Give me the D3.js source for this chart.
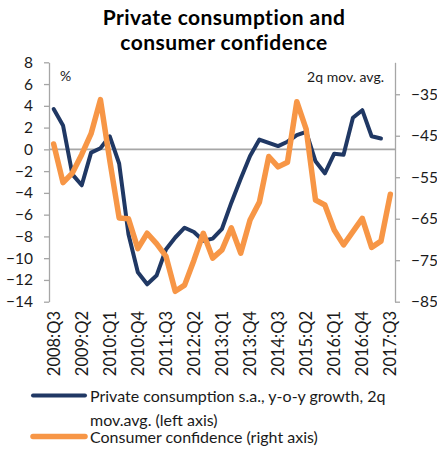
<!DOCTYPE html>
<html>
<head>
<meta charset="utf-8">
<script src="https://cdn.jsdelivr.net/npm/d3@7"></script>
<style>
  html, body { margin: 0; padding: 0; background: #fff; }
  svg { display: block; font-family: Lato, "Open Sans", sans-serif; }
</style>
</head>
<body>
<svg id="chart" width="437" height="449"></svg>
<script>
// ---- Data ----
const quarters = [
  "2008:Q3","2008:Q4","2009:Q1","2009:Q2","2009:Q3","2009:Q4","2010:Q1","2010:Q2","2010:Q3","2010:Q4",
  "2011:Q1","2011:Q2","2011:Q3","2011:Q4","2012:Q1","2012:Q2","2012:Q3","2012:Q4","2013:Q1","2013:Q2",
  "2013:Q3","2013:Q4","2014:Q1","2014:Q2","2014:Q3","2014:Q4","2015:Q1","2015:Q2","2015:Q3","2015:Q4",
  "2016:Q1","2016:Q2","2016:Q3","2016:Q4","2017:Q1","2017:Q2","2017:Q3"
];
const tickLabels = ["2008:Q3","2009:Q2","2010:Q1","2010:Q4","2011:Q3","2012:Q2","2013:Q1","2013:Q4","2014:Q3","2015:Q2","2016:Q1","2016:Q4","2017:Q3"];
const privateConsumption = [
  3.7, 2.2, -2.3, -3.3, -0.3, 0.1, 1.2, -1.3, -7.8, -11.3,
  -12.4, -11.6, -9.2, -8.1, -7.2, -7.6, -8.4, -8.2, -7.3, -4.9,
  -2.7, -0.6, 0.9, 0.6, 0.3, 0.7, 1.3, 1.6, -1.1, -2.2,
  -0.4, -0.5, 2.9, 3.6, 1.2, 1.0, null
];
const consumerConfidence = [
  -47, -56.3, -54, -49.5, -44.5, -36.3, -51, -64.8, -65, -72.2,
  -68.5, -71, -74, -82.5, -81, -75, -68.5, -74.5, -72.5, -67.2,
  -73.3, -65.3, -61, -50, -52.5, -51.4, -36.8, -43.4, -60.5, -61.7,
  -67.7, -71.3, -68.1, -64.9, -71.9, -70.4, -59.1
];
const leftTicks = [-14, -12, -10, -8, -6, -4, -2, 0, 2, 4, 6, 8];
const rightTicks = [-85, -75, -65, -55, -45, -35];
const titleLines = ["Private consumption and", "consumer confidence"];
const legendItems = [
  {lines: ["Private consumption s.a., y-o-y growth, 2q", "mov.avg. (left axis)"], color: "#203864", width: 4},
  {lines: ["Consumer confidence (right axis)"], color: "#F79646", width: 5.5}
];

// ---- Layout ----
const svg = d3.select("#chart");
const plotLeft = 49, plotRight = 395, plotTop = 62.3, plotBottom = 301.7;
const x = d3.scaleBand().domain(quarters).range([plotLeft, plotRight]);
const cx = d => x(d) + x.bandwidth() / 2;
const yL = d3.scaleLinear().domain([-14, 8]).range([plotBottom, plotTop]);
const yR = d3.scaleLinear().domain([-85, -27.3]).range([plotBottom, plotTop]);
const textColor = "#1a1a1a";
const axisColor = "#A6A6A6";

// Title
svg.append("g").selectAll("text").data(titleLines).join("text")
  .attr("x", 224).attr("y", (d, i) => 25 + i * 25)
  .attr("text-anchor", "middle")
  .attr("font-weight", "bold").attr("font-size", 21)
  .attr("letter-spacing", 0.45)
  .attr("fill", "#000").text(d => d);

// Left axis
const gL = svg.append("g").attr("transform", `translate(${plotLeft},0)`)
  .call(d3.axisLeft(yL).tickValues(leftTicks).tickSize(5).tickSizeOuter(0).tickPadding(11));
// Right axis
const gR = svg.append("g").attr("transform", `translate(${plotRight},0)`)
  .call(d3.axisRight(yR).tickValues(rightTicks).tickSize(5).tickSizeOuter(0).tickPadding(11));
[gL, gR].forEach(g => {
  g.select(".domain").attr("stroke", axisColor).attr("stroke-width", 1.3);
  g.selectAll(".tick line").attr("stroke", axisColor).attr("stroke-width", 1.3);
  g.selectAll(".tick text").attr("fill", textColor).attr("font-size", 15.5)
    .attr("font-family", "Lato, sans-serif");
});

// Zero line (category axis)
svg.append("line")
  .attr("x1", plotLeft).attr("x2", plotRight)
  .attr("y1", yL(0)).attr("y2", yL(0))
  .attr("stroke", axisColor).attr("stroke-width", 1.6);

// Category labels
svg.append("g").selectAll("text").data(tickLabels).join("text")
  .attr("transform", d => `translate(${cx(d)},311) rotate(-90)`)
  .attr("text-anchor", "end").attr("dy", "0.36em")
  .attr("font-size", 16.5).attr("fill", textColor).text(d => d);

// Unit labels
svg.append("text").attr("x", 60).attr("y", 80.5).attr("font-size", 14)
  .attr("fill", textColor).text("%");
svg.append("text").attr("x", 384).attr("y", 81.7).attr("font-size", 14)
  .attr("text-anchor", "end").attr("fill", textColor).text("2q mov. avg.");

// Lines
const lineL = d3.line().defined(d => d[1] != null).x(d => cx(d[0])).y(d => yL(d[1]));
const lineR = d3.line().defined(d => d[1] != null).x(d => cx(d[0])).y(d => yR(d[1]));
svg.append("path")
  .datum(quarters.map((q, i) => [q, privateConsumption[i]]))
  .attr("d", lineL).attr("fill", "none")
  .attr("stroke", legendItems[0].color).attr("stroke-width", legendItems[0].width)
  .attr("stroke-linejoin", "round").attr("stroke-linecap", "round");
svg.append("path")
  .datum(quarters.map((q, i) => [q, consumerConfidence[i]]))
  .attr("d", lineR).attr("fill", "none")
  .attr("stroke", legendItems[1].color).attr("stroke-width", legendItems[1].width)
  .attr("stroke-linejoin", "round").attr("stroke-linecap", "round");

// Legend
const legendLineY = [395.5, 436.5];
const legendTextY = [[401.7, 425.7], [443.3]];
legendItems.forEach((item, k) => {
  const g = svg.append("g");
  g.append("line").attr("x1", 33).attr("x2", 85)
    .attr("y1", legendLineY[k]).attr("y2", legendLineY[k])
    .attr("stroke", item.color).attr("stroke-width", item.width)
    .attr("stroke-linecap", "round");
  g.selectAll("text").data(item.lines).join("text")
    .attr("x", 90).attr("y", (d, i) => legendTextY[k][i])
    .attr("font-size", 16).attr("fill", textColor).text(d => d);
});
</script>
</body>
</html>
